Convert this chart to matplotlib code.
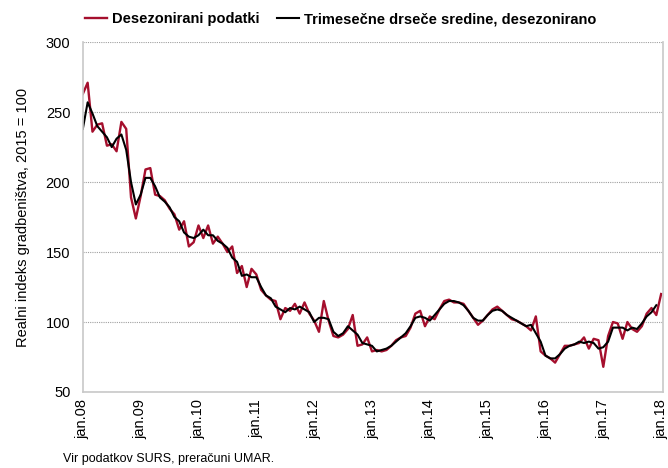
import numpy as np
import matplotlib
matplotlib.use("Agg")
import matplotlib.pyplot as plt

plt.rcParams['font.family'] = ['Liberation Sans', 'DejaVu Sans']

# monthly data, jan 2008 - jan 2018
desezonirani = [
    263, 271, 236, 241, 242, 226, 227, 222, 243, 238, 189, 174,   # 2008
    190, 209, 210, 191, 190, 187, 181, 177, 166, 172, 154, 157,   # 2009
    169, 160, 169, 156, 161, 156, 150, 154, 135, 140, 125, 138,   # 2010
    134, 123, 119, 116, 115, 102, 110, 108, 113, 106, 114, 106,   # 2011
    101, 93, 115, 101, 90, 89, 91, 95, 105, 83, 84, 89,           # 2012
    79, 80, 79, 80, 83, 87, 89, 90, 96, 106, 108, 97,             # 2013
    104, 102, 109, 115, 116, 114, 114, 113, 108, 103, 98, 101,    # 2014
    105, 109, 111, 108, 105, 102, 101, 99, 97, 94, 104, 79,       # 2015
    76, 74, 71, 77, 83, 83, 84, 85, 89, 81, 88, 87,               # 2016
    68, 90, 100, 99, 88, 100, 95, 93, 97, 106, 110, 105,          # 2017
    120,                                                          # 2018
]

drsece = [
    238, 257, 249, 240, 236, 232, 225, 231, 234, 223, 200, 184,
    191, 203, 203, 197, 189, 186, 182, 175, 172, 164, 161, 160,
    162, 166, 162, 162, 158, 156, 153, 146, 143, 133, 134, 132,
    132, 125, 119, 117, 111, 109, 107, 110, 109, 111, 109, 107,
    100, 103, 103, 102, 93, 90, 92, 97, 94, 91, 85, 84,
    83, 79, 80, 81, 83, 86, 89, 92, 97, 103, 104, 103,
    101, 105, 109, 113, 115, 115, 114, 112, 108, 103, 101, 101,
    105, 108, 109, 108, 105, 103, 101, 99, 97, 98, 92, 86,
    76, 74, 74, 77, 81, 83, 84, 86, 85, 86, 85, 81,
    82, 86, 96, 96, 96, 94, 96, 95, 99, 104, 107, 112,
]

tick_labels = ['jan.08', 'jan.09', 'jan.10', 'jan.11', 'jan.12', 'jan.13',
               'jan.14', 'jan.15', 'jan.16', 'jan.17', 'jan.18']

x1 = np.arange(len(desezonirani))
x2 = np.arange(len(drsece))

fig = plt.figure(figsize=(6.68, 4.68), dpi=100)
ax = fig.add_axes([0.124, 0.1624, 0.8686, 0.7476])

ax.plot(x1, desezonirani, color='#A50F2D', lw=1.7, label='Desezonirani podatki')
ax.plot(x2, drsece, color='black', lw=1.5, label='Trimesečne drseče sredine, desezonirano')

ax.set_ylim(50, 300)
ax.set_xlim(0, 120.4)
ax.set_yticks([50, 100, 150, 200, 250, 300])
ax.set_xticks(np.arange(0, 121, 12))
ax.set_xticklabels(tick_labels, rotation=90)
ax.tick_params(length=0, labelsize=10.5)
ax.tick_params(axis='y', pad=9)
ax.tick_params(axis='x', pad=5)

ax.grid(axis='y', color='#a0a0a0', linestyle=(0, (1, 1)), lw=0.8)
ax.set_axisbelow(True)
for s in ['left', 'right', 'bottom']:
    ax.spines[s].set_color('#c8c8c8')
    ax.spines[s].set_linewidth(1.2)
ax.spines['top'].set_visible(False)

ax.set_ylabel('Realni indeks gradbeništva, 2015 = 100', fontsize=10.5, labelpad=11)

leg = fig.legend(loc='center', bbox_to_anchor=(0.51, 0.959), ncol=2, frameon=False,
                 prop={'weight': 'bold', 'size': 10.5}, handlelength=1.5,
                 handletextpad=0.35, columnspacing=1.2)

fig.text(0.094, 0.012, 'Vir podatkov SURS, preračuni UMAR.', fontsize=9)

fig.savefig('out.png', dpi=100)
